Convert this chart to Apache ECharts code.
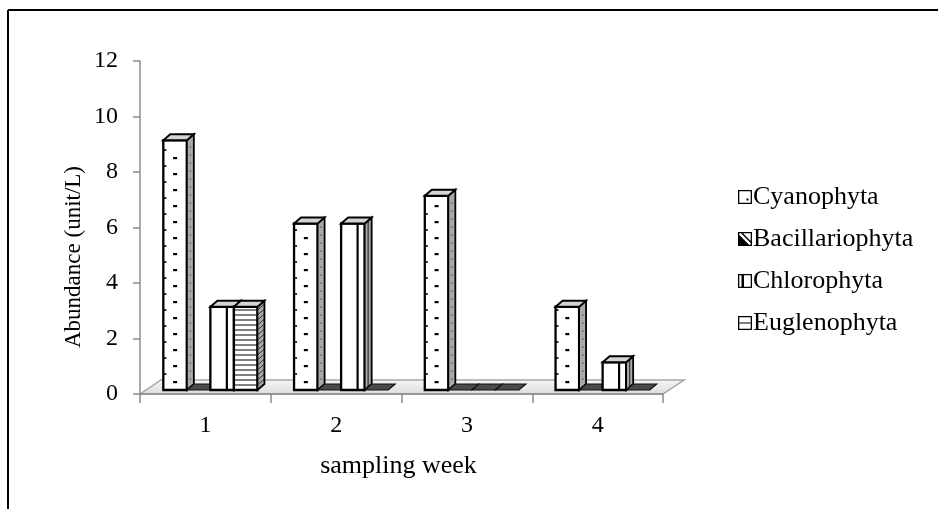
<!DOCTYPE html>
<html>
<head>
<meta charset="utf-8">
<script src="https://cdn.jsdelivr.net/npm/echarts@6/dist/echarts.min.js"></script>
<style>
html,body{margin:0;padding:0;background:#fff;}
#main{width:938px;height:509px;}
</style>
</head>
<body>
<div id="main"></div>
<script>
// ---- data ----
const categories = ['1', '2', '3', '4'];
const seriesNames = ['Cyanophyta', 'Bacillariophyta', 'Chlorophyta', 'Euglenophyta'];
const cyanophyta = [9, 6, 7, 3];
const bacillariophyta = [0, 0, 0, 0];
const chlorophyta = [3, 6, 0, 1];
const euglenophyta = [3, 0, 0, 0];
const yMin = 0, yMax = 12, yStep = 2;
const xTitle = 'sampling week';
const yTitle = 'Abundance (unit/L)';

const FONT = 'Liberation Serif';
const FS = 24;
const FS_BIG = 26;
const DX = 7, DY = -6, SHIFT_X = 5, SHIFT_Y = -4;

function makeRender(s) {
  return function (params, api) {
    const ci = api.value(0), v = api.value(1);
    const base = api.coord([ci, 0]);
    const top = api.coord([ci, v]);
    const band = api.size([1, 0])[0];
    const bw = band * 0.18;
    const x0 = base[0] - 2 * bw + s * bw + SHIFT_X;
    const yb = base[1] + SHIFT_Y;
    const yt = top[1] + SHIFT_Y;
    const ch = [];
    if (v <= 0) {
      ch.push({type: 'polygon', shape: {points: [[x0, yb], [x0 + DX, yb + DY], [x0 + bw + DX, yb + DY], [x0 + bw, yb]]},
        style: {fill: '#4a4a4a', stroke: '#111', lineWidth: 1.2}});
      return {type: 'group', children: ch};
    }
    const sideFill = '#a9a9a9';
    ch.push({type: 'rect', shape: {x: x0, y: yt, width: bw, height: yb - yt}, style: {fill: '#fff', stroke: 'none'}});
    if (s === 0) {
      for (let y = yb - 8; y > yt + 4; y -= 16) {
        ch.push({type: 'rect', shape: {x: x0 + bw / 2 - 2, y: y - 1, width: 4, height: 2.2}, style: {fill: '#000'}});
        if (y - 8 > yt + 3) ch.push({type: 'rect', shape: {x: x0, y: y - 8 - 0.8, width: 3, height: 1.6}, style: {fill: '#000'}});
      }
    } else if (s === 2) {
      ch.push({type: 'line', shape: {x1: x0 + bw * 0.7, y1: yt, x2: x0 + bw * 0.7, y2: yb}, style: {stroke: '#000', lineWidth: 2.2}});
    } else if (s === 3) {
      for (let y = yb - 5; y > yt + 2; y -= 5) {
        ch.push({type: 'line', shape: {x1: x0, y1: y, x2: x0 + bw, y2: y}, style: {stroke: '#000', lineWidth: 1}});
      }
    }
    ch.push({type: 'rect', shape: {x: x0, y: yt, width: bw, height: yb - yt}, style: {fill: 'none', stroke: '#000', lineWidth: 2.3}});
    ch.push({type: 'polygon', shape: {points: [[x0 + bw, yt], [x0 + bw + DX, yt + DY], [x0 + bw + DX, yb + DY], [x0 + bw, yb]]},
      style: {fill: sideFill, stroke: 'none'}});
    if (s === 0) {
      for (let y = yb - 8; y > yt + 6; y -= 8) {
        ch.push({type: 'rect', shape: {x: x0 + bw + DX / 2 - 0.6, y: y + DY / 2 - 0.6, width: 1.3, height: 1.3}, style: {fill: '#444'}});
      }
    } else if (s === 2) {
      ch.push({type: 'line', shape: {x1: x0 + bw + DX / 2, y1: yt + DY / 2, x2: x0 + bw + DX / 2, y2: yb + DY / 2}, style: {stroke: '#333', lineWidth: 1.2}});
    } else if (s === 3) {
      for (let y = yb - 5; y > yt + 2; y -= 5) {
        ch.push({type: 'line', shape: {x1: x0 + bw, y1: y, x2: x0 + bw + DX, y2: y + DY}, style: {stroke: '#333', lineWidth: 1}});
      }
    }
    ch.push({type: 'polygon', shape: {points: [[x0 + bw, yt], [x0 + bw + DX, yt + DY], [x0 + bw + DX, yb + DY], [x0 + bw, yb]]},
      style: {fill: 'none', stroke: '#000', lineWidth: 1.8}});
    ch.push({type: 'polygon', shape: {points: [[x0, yt], [x0 + DX, yt + DY], [x0 + bw + DX, yt + DY], [x0 + bw, yt]]},
      style: {fill: '#d4d4d4', stroke: '#000', lineWidth: 1.8}});
    return {type: 'group', children: ch};
  };
}

const allValues = [cyanophyta, bacillariophyta, chlorophyta, euglenophyta];
const icons = [
  'path://M0,0H14V14H0ZM1.3,12.7H12.7V1.3H1.3ZM8.5,8.5H10.5V10.5H8.5Z',
  'path://M0,0H14V14H0ZM1.3,12.7H12.7V1.3H1.3ZM1.3,3L11,12.7H1.3ZM3,1.3L12.7,11V9L5,1.3Z',
  'path://M0,0H14V14H0ZM1.3,12.7H12.7V1.3H1.3ZM3.5,1.3H6V12.7H3.5Z',
  'path://M0,0H14V14H0ZM1.3,12.7H12.7V1.3H1.3ZM1.3,6.4H12.7V7.6H1.3Z'
];

const series = seriesNames.map((name, s) => ({
  name: name,
  type: 'custom',
  renderItem: makeRender(s),
  itemStyle: {color: '#000'},
  encode: {x: 0, y: 1},
  z: 3,
  data: allValues[s].map((v, i) => [i, v])
}));

const chart = echarts.init(document.getElementById('main'), null, {renderer: 'canvas'});
chart.setOption({
  animation: false,
  backgroundColor: '#fff',
  textStyle: {fontFamily: FONT},
  grid: {left: 140, right: 275, top: 61, bottom: 115, containLabel: false},
  xAxis: {
    type: 'category',
    data: categories,
    name: xTitle,
    nameLocation: 'middle',
    nameGap: 59,
    nameTextStyle: {fontFamily: FONT, fontSize: FS_BIG, color: '#000', padding: [0, 6, 0, 0]},
    axisLine: {lineStyle: {color: '#8c8c8c', width: 1.5}},
    axisTick: {show: true, length: 9, lineStyle: {color: '#8c8c8c', width: 1.5}},
    axisLabel: {fontFamily: FONT, fontSize: FS, color: '#000', margin: 20}
  },
  yAxis: {
    type: 'value',
    min: yMin, max: yMax, interval: yStep,
    axisLine: {show: true, lineStyle: {color: '#8c8c8c', width: 1.5}},
    axisTick: {show: true, length: 7, lineStyle: {color: '#8c8c8c', width: 1.5}},
    axisLabel: {fontFamily: FONT, fontSize: FS, color: '#000', margin: 22},
    splitLine: {show: false}
  },
  legend: {
    orient: 'vertical',
    left: 738,
    top: 184,
    padding: 0,
    itemWidth: 14,
    itemHeight: 14,
    itemGap: 16,
    textStyle: {fontFamily: FONT, fontSize: FS_BIG, color: '#000', padding: [0, 0, 0, -4]},
    data: seriesNames.map((n, i) => ({name: n, icon: icons[i], itemStyle: {color: '#000', borderWidth: 0}}))
  },
  graphic: [
    {type: 'line', z: 0, shape: {x1: 8, y1: 10, x2: 938, y2: 10}, style: {stroke: '#000', lineWidth: 2}},
    {type: 'line', z: 0, shape: {x1: 8, y1: 10, x2: 8, y2: 509}, style: {stroke: '#000', lineWidth: 2}},
    {type: 'polygon', z: 0, shape: {points: [[140, 394], [663, 394], [684, 380], [161, 380]]},
      style: {fill: {type: 'linear', x: 0, y: 0, x2: 0, y2: 1, colorStops: [{offset: 0, color: '#f7f7f7'}, {offset: 1, color: '#dcdcdc'}]}, stroke: '#a6a6a6', lineWidth: 1.5}},
    {type: 'text', z: 5, x: 74, y: 257, rotation: Math.PI / 2,
      style: {text: yTitle, fontFamily: FONT, fontSize: 23, fill: '#000', align: 'center', verticalAlign: 'middle'}}
  ],
  series: series
});
</script>
</body>
</html>
